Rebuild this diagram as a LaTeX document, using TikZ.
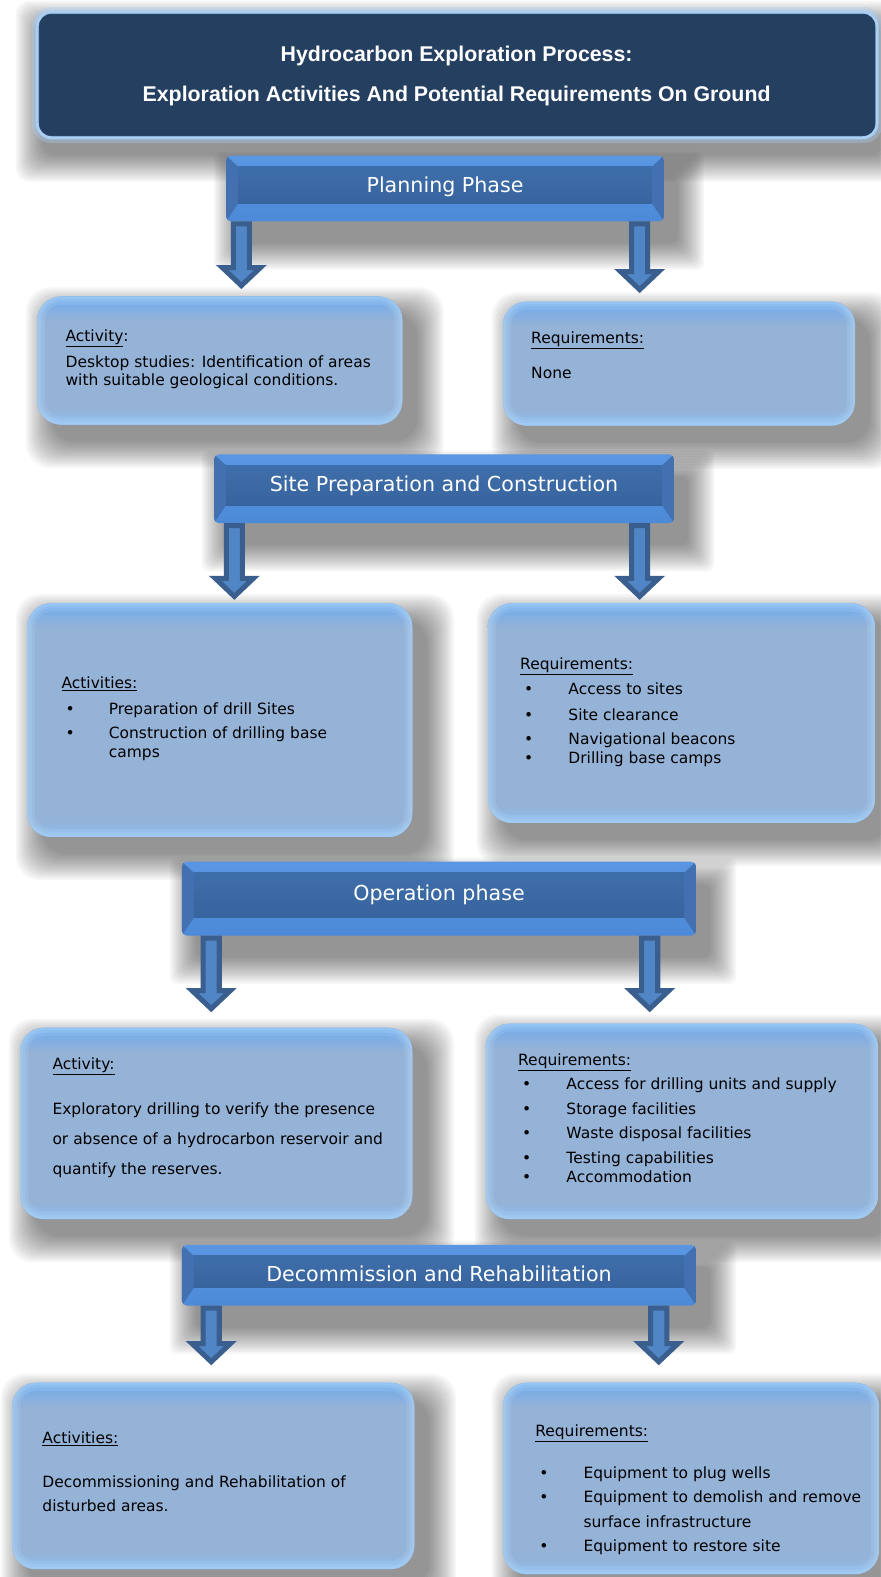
\documentclass[tikz,border=0pt]{standalone}
\usepackage{fontspec}
\setmainfont{DejaVu Sans}
\newfontfamily\titlefont{Liberation Sans}
\usetikzlibrary{calc}

\definecolor{navy}{RGB}{37,63,97}
\definecolor{navyrim}{RGB}{168,206,243}
\definecolor{boxfill}{RGB}{149,178,215}
\definecolor{boxtop}{RGB}{110,170,238}
\definecolor{boxlow}{RGB}{140,190,240}
\definecolor{boxrim}{RGB}{170,210,246}
\definecolor{bartop}{RGB}{90,150,226}
\definecolor{barband}{RGB}{64,112,180}
\definecolor{barlow}{RGB}{76,138,216}
\definecolor{barside}{RGB}{66,112,176}
\definecolor{facetop}{RGB}{62,110,170}
\definecolor{facebot}{RGB}{56,100,158}
\definecolor{arrfill}{RGB}{80,133,198}
\definecolor{arrline}{RGB}{58,94,142}

\pgfdeclarelayer{bottom}
\pgfdeclarelayer{shadow}
\pgfsetlayers{bottom,shadow,main}

\newcommand{\bodyf}{\fontsize{15.4}{18}\selectfont}

\newcommand{\softshadow}[4]{%
  \begin{pgfonlayer}{shadow}
  \foreach \e in {0,2,...,26}
    \fill[black, opacity=0.036, rounded corners=#4pt]
      ($(#1.north west)+(#2-\e,#3-\e)$) rectangle ($(#1.south east)+(#2+\e,#3+\e)$);
  \end{pgfonlayer}}

\newcommand{\glowbox}[5]{%
  \node[inner sep=0pt, minimum width=#4pt, minimum height=#5pt] (#1) at (#2,#3) {};
  \softshadow{#1}{15}{17}{24}
  \begin{scope}
    \clip[rounded corners=24pt] (#1.north west) rectangle (#1.south east);
    \fill[boxfill] (#1.north west) rectangle (#1.south east);
    \shade[top color=boxtop, bottom color=boxfill] (#1.north west) rectangle ($(#1.north east)+(0,24)$);
    \shade[top color=boxfill, bottom color=boxlow] ($(#1.south west)+(0,-16)$) rectangle (#1.south east);
    \foreach \w/\o in {16/0.25,10/0.3,5/0.4}
      \draw[boxrim, line width=\w pt, opacity=\o, rounded corners=24pt] (#1.north west) rectangle (#1.south east);
  \end{scope}}

\newcommand{\phasebar}[5]{%
  \node[inner sep=0pt, minimum width=#4pt, minimum height=#5pt] (#1) at (#2,#3) {};
  \softshadow{#1}{14}{22}{8}
  \begin{scope}
    \clip[rounded corners=5pt] (#1.north west) rectangle (#1.south east);
    \shade[top color=bartop, middle color=barband, bottom color=barlow] (#1.north west) rectangle (#1.south east);
    \fill[barside] (#1.north west) -- ($(#1.north west)+(12,11)$) -- ($(#1.south west)+(12,-18)$) -- (#1.south west) -- cycle;
    \fill[barside] (#1.north east) -- ($(#1.north east)+(-12,11)$) -- ($(#1.south east)+(-12,-18)$) -- (#1.south east) -- cycle;
    \shade[top color=facetop, bottom color=facebot] ($(#1.north west)+(12,11)$) rectangle ($(#1.south east)+(-12,-18)$);
  \end{scope}}

\newcommand{\blockarrow}[2]{\draw[arrowsty] let \p1=(#1), \p2=(#2) in
  (\x2-8pt,\y1-2.5pt) -- (\x2-8pt,\y2+22pt) -- (\x2-19pt,\y2+22pt) -- (\x2,\y2+4pt)
  -- (\x2+19pt,\y2+22pt) -- (\x2+8pt,\y2+22pt) -- (\x2+8pt,\y1-2.5pt) -- cycle;}

\begin{document}
\begin{tikzpicture}[x=1pt,y=-1pt,
  titlebox/.style={rectangle, rounded corners=14pt, fill=navy, draw=navyrim, line width=3pt},
  arrowsty/.style={fill=arrfill, draw=arrline, line width=5pt, line join=miter},
  txt/.style={anchor=base west, inner sep=0pt, font=\bodyf, text=black},
  phasetxt/.style={text=white, inner sep=0pt, font=\fontsize{20.5}{24}\selectfont},
  titletxt/.style={anchor=base, inner sep=0pt, text=white, font=\titlefont\bfseries\fontsize{21.2}{24}\selectfont}
]
\begin{pgfonlayer}{bottom}
\fill[white] (0,0) rectangle (875,1568);
\end{pgfonlayer}
\useasboundingbox (0,0) rectangle (875,1568);

% title
\node[titlebox, minimum width=835pt, minimum height=125pt] (title) at (454.5,74.5) {};
\softshadow{title}{6}{16}{14}
\draw[navyrim, line width=7pt, opacity=0.35, rounded corners=14pt] (title.north west) rectangle (title.south east);
\node[titletxt] (title1) at (454,61) {Hydrocarbon Exploration Process:};
\node[titletxt] (title2) at (454,101) {Exploration Activities And Potential Requirements On Ground};

% boxes
\glowbox{b1}{218.5}{358.5}{363}{127}
\glowbox{b2}{675}{361.5}{350}{123}
\glowbox{b3}{218.5}{716}{383}{232}
\glowbox{b4}{677.5}{709}{385}{218}
\glowbox{b5}{215}{1117}{390}{190}
\glowbox{b6}{678}{1115}{390}{194}
\glowbox{b7}{212}{1467.5}{400}{185}
\glowbox{b8}{687}{1470}{374}{190}

% phase bars
\phasebar{p1}{442.5}{187.5}{435}{65}
\phasebar{p2}{441.5}{486}{457}{68}
\phasebar{p3}{436.5}{893.5}{511}{73}
\phasebar{p4}{436.5}{1268}{511}{60}
\node[phasetxt] (p1t) at (442.5,186) {Planning Phase};
\node[phasetxt] (p2t) at (441.5,483) {Site Preparation and Construction};
\node[phasetxt] (p3t) at (436.5,890) {Operation phase};
\node[phasetxt] (p4t) at (436.5,1267) {Decommission and Rehabilitation};

% arrows
\coordinate (t1) at (240,288);
\coordinate (t2) at (636,292);
\coordinate (t3) at (233,597);
\coordinate (t4) at (636,597);
\coordinate (t5) at (210,1007);
\coordinate (t6) at (646,1007);
\coordinate (t7) at (210,1358);
\coordinate (t8) at (655,1358);
\blockarrow{t1 |- p1.south}{t1}
\blockarrow{t2 |- p1.south}{t2}
\blockarrow{t3 |- p2.south}{t3}
\blockarrow{t4 |- p2.south}{t4}
\blockarrow{t5 |- p3.south}{t5}
\blockarrow{t6 |- p3.south}{t6}
\blockarrow{t7 |- p4.south}{t7}
\blockarrow{t8 |- p4.south}{t8}

% box 1
\node[txt] (b1h) at (65,340) {\underline{Activity}:};
\node[txt] (b1a) at (65,365) {Desktop studies: Identification of areas};
\node[txt] (b1b) at (65,383) {with suitable geological conditions.};
% box 2
\node[txt] (b2h) at (528,342) {\underline{Requirements:}};
\node[txt] (b2a) at (528,376) {None};
% box 3
\node[txt] (b3h) at (61,685) {\underline{Activities:}};
\node[txt] (b3d1) at (65,710) {•};
\node[txt] (b3a) at (108,710) {Preparation of drill Sites};
\node[txt] (b3d2) at (65,734) {•};
\node[txt] (b3b) at (108,734) {Construction of drilling base};
\node[txt] (b3c) at (108,753) {camps};
% box 4
\node[txt] (b4h) at (517,666) {\underline{Requirements:}};
\node[txt] (b4d1) at (521,691) {•};
\node[txt] (b4a) at (565,691) {Access to sites};
\node[txt] (b4d2) at (521,716) {•};
\node[txt] (b4b) at (565,716) {Site clearance};
\node[txt] (b4d3) at (521,740) {•};
\node[txt] (b4c) at (565,740) {Navigational beacons};
\node[txt] (b4d4) at (521,759) {•};
\node[txt] (b4e) at (565,759) {Drilling base camps};
% box 5
\node[txt] (b5h) at (52,1063) {\underline{Activity:}};
\node[txt] (b5a) at (52,1108) {Exploratory drilling to verify the presence};
\node[txt] (b5b) at (52,1138) {or absence of a hydrocarbon reservoir and};
\node[txt] (b5c) at (52,1168) {quantify the reserves.};
% box 6
\node[txt] (b6h) at (515,1059) {\underline{Requirements:}};
\node[txt] (b6d1) at (519,1083) {•};
\node[txt] (b6a) at (563,1083) {Access for drilling units and supply};
\node[txt] (b6d2) at (519,1108) {•};
\node[txt] (b6b) at (563,1108) {Storage facilities};
\node[txt] (b6d3) at (519,1132) {•};
\node[txt] (b6c) at (563,1132) {Waste disposal facilities};
\node[txt] (b6d4) at (519,1157) {•};
\node[txt] (b6e) at (563,1157) {Testing capabilities};
\node[txt] (b6d5) at (519,1176) {•};
\node[txt] (b6f) at (563,1176) {Accommodation};
% box 7
\node[txt] (b7h) at (42,1435) {\underline{Activities:}};
\node[txt] (b7a) at (42,1479) {Decommissioning and Rehabilitation of};
\node[txt] (b7b) at (42,1503) {disturbed areas.};
% box 8
\node[txt] (b8h) at (532,1428) {\underline{Requirements:}};
\node[txt] (b8d1) at (536,1470) {•};
\node[txt] (b8a) at (580,1470) {Equipment to plug wells};
\node[txt] (b8d2) at (536,1494) {•};
\node[txt] (b8b) at (580,1494) {Equipment to demolish and remove};
\node[txt] (b8c) at (580,1519) {surface infrastructure};
\node[txt] (b8d3) at (536,1543) {•};
\node[txt] (b8e) at (580,1543) {Equipment to restore site};
\end{tikzpicture}
\end{document}
